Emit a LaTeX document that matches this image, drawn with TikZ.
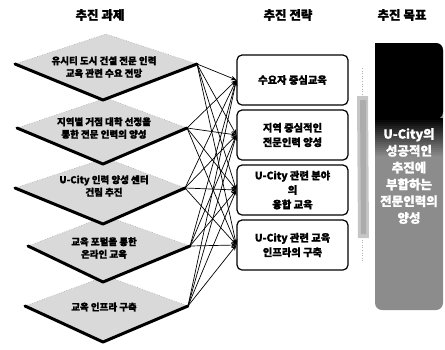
\documentclass[tikz,border=0pt]{standalone}
\usepackage{fontspec}
\setmainfont{Noto Sans CJK KR}[BoldFeatures={FakeBold=1.2}]
\usetikzlibrary{arrows.meta}
\definecolor{goalbot}{RGB}{140,140,140}
\begin{document}
\begin{tikzpicture}[x=1pt,y=-1pt,
  title/.style={font=\bfseries\fontsize{12.5}{14}\selectfont},
  tasktext/.style={font=\bfseries\fontsize{9.5}{12.5}\selectfont, align=center},
  stratbox/.style={draw, line width=1.2pt, rounded corners=5pt, minimum width=111pt, minimum height=50pt, align=center, inner sep=2pt, font=\bfseries\fontsize{10.3}{14.5}\selectfont},
  goaltext/.style={text=white, align=center, font=\bfseries\fontsize{12.5}{16.8}\selectfont},
  link/.style={line width=0.7pt, -{Stealth[length=5.5pt,width=4.5pt]}},
  slabfill/.style={fill=gray!30},
  slabtop/.style={draw=gray!70, dotted, line width=0.6pt},
  slabedge/.style={line width=3pt, line join=round, line cap=round}
]
\useasboundingbox (0,0) rectangle (445,349);

% titles
\node[title] (h1) at (100,15) {추진 과제};
\node[title] (h2) at (288,15) {추진 전략};
\node[title] (h3) at (402,15) {추진 목표};

% task slabs (drawn bottom first)
\foreach \i/\xl/\xr/\yc in {5/25/188/306, 4/28/190/246, 3/15/185/188, 2/17/187/128, 1/15/197/64} {
  \fill[slabfill] (\xl,\yc) -- (106,\yc-30) -- (\xr,\yc) -- (103,\yc+36) -- cycle;
  \draw[slabtop] (\xl,\yc) -- (106,\yc-30) -- (\xr,\yc);
  \draw[slabedge] (\xl,\yc) -- (103,\yc+36) -- (\xr,\yc);
  \coordinate (s\i) at (\xr,\yc);
}
\node[tasktext] (t1) at (104,67) {유시티 도시 건설 전문 인력\\교육 관련 수요 전망};
\node[tasktext] (t2) at (104,128) {지역별 거점 대학 선정을\\통한 전문 인력의 양성};
\node[tasktext] (t3) at (104,186) {U-City 인력 양성 센터\\건립 추진};
\node[tasktext] (t4) at (104,248) {교육 포털을 통한\\온라인 교육};
\node[tasktext] (t5) at (104,307) {교육 인프라 구축};

% strategy boxes
\node[stratbox] (b1) at (292.5,80) {수요자 중심교육};
\node[stratbox] (b2) at (292.5,135) {지역 중심적인\\전문인력 양성};
\node[stratbox] (b3) at (292.5,190) {U-City 관련 분야\\의\\융합 교육};
\node[stratbox] (b4) at (292.5,245) {U-City 관련 교육\\인프라의 구축};

% connectors
\foreach \s in {1,...,5} {
  \foreach \b in {1,...,4} {
    \draw[link] (s\s) -- (b\b.west);
  }
}

% gray band
\draw[gray!60, dotted, line width=0.6pt] (362,68) -- (362,262);
\fill[gray!45] (357,96) -- (368,96) -- (369,238) -- (358,238) -- cycle;
\fill[gray!65] (360,100) -- (366,100) -- (366,234) -- (361,234) -- cycle;

% goal panel
\fill[goalbot, rounded corners=7pt] (375,43) rectangle (443,310);
\fill[black, rounded corners=7pt] (375,43) -- (443,43) -- (443,119) [sharp corners] -- (375,119) -- cycle;
\foreach \k in {0,...,19} {
  \pgfmathtruncatemacro{\p}{100-\k*100/19}
  \fill[black!\p!goalbot] (375,118+\k*2) rectangle (443,120.5+\k*2);
}
\node[goaltext] (g) at (409,176) {U-City의\\성공적인\\추진에\\부합하는\\전문인력의\\양성};
\end{tikzpicture}
\end{document}
